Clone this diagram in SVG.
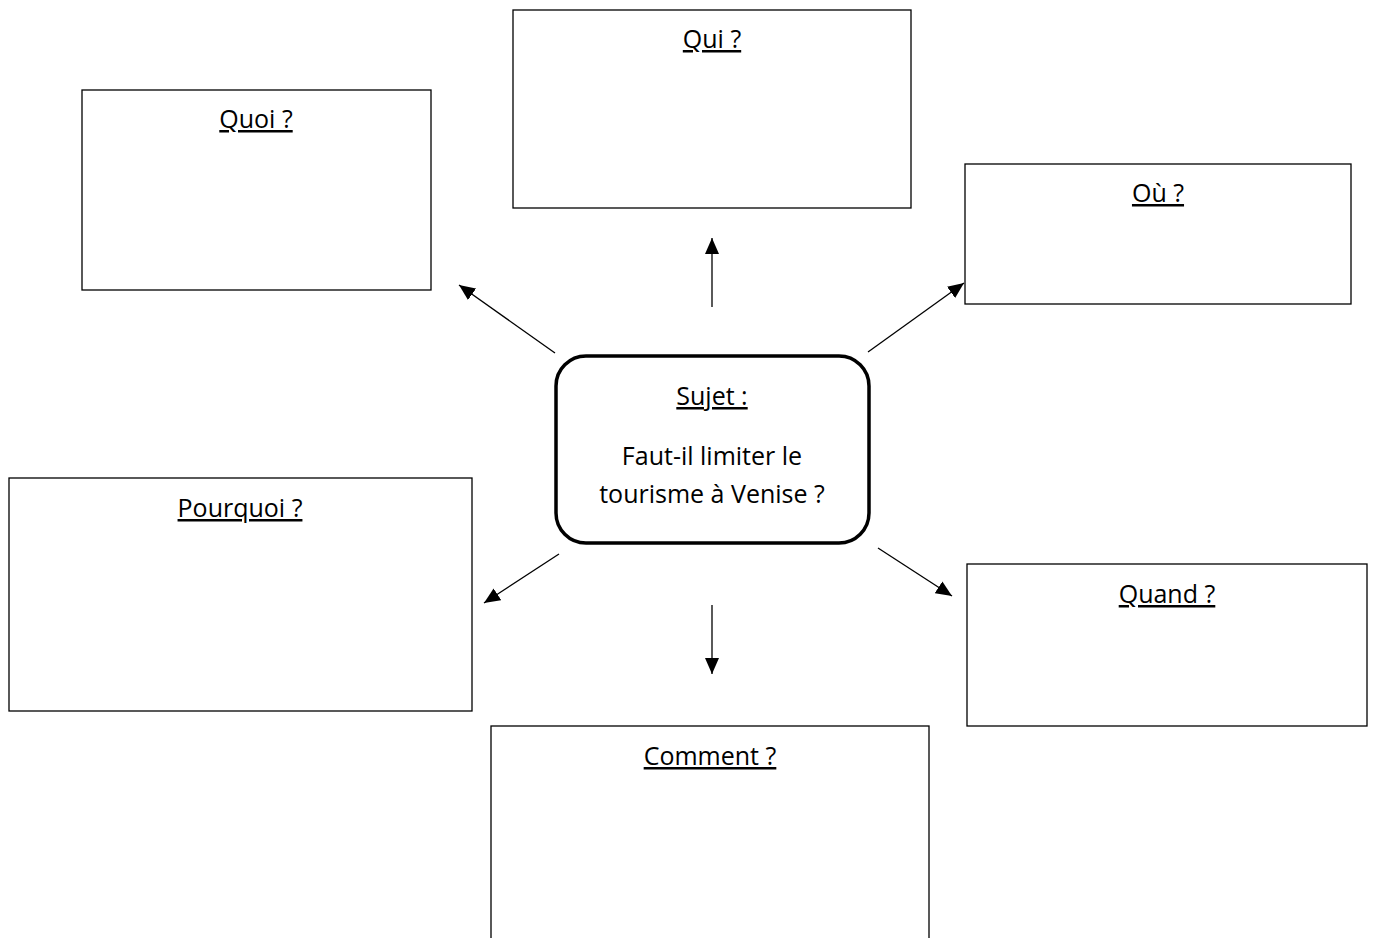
<svg xmlns="http://www.w3.org/2000/svg" width="1373" height="938" viewBox="0 0 1373 938">
<style>
.box{fill:#fff;stroke:#000;stroke-width:1.3}
.center{fill:#fff;stroke:#000;stroke-width:3.5}
.t{font-family:"Open Sans","Noto Sans",sans-serif;font-size:25px;fill:#000;text-anchor:middle}
.u{text-decoration:underline}
.c{stroke:#000;stroke-width:1.3;fill:none;marker-end:url(#ah)}
</style>
<defs>
<marker id="ah" viewBox="0 0 16 14" refX="16" refY="7" markerWidth="16" markerHeight="14" markerUnits="userSpaceOnUse" orient="auto">
<path d="M0,0 L16,7 L0,14 z" fill="#000"/>
</marker>
</defs>
<rect width="1373" height="938" fill="#fff"/>
<g id="qui"><rect class="box" x="513" y="10" width="398" height="198"/><text class="t u" x="712" y="48">Qui ?</text></g>
<g id="quoi"><rect class="box" x="82" y="90" width="349" height="200"/><text class="t u" x="256" y="128">Quoi ?</text></g>
<g id="ou"><rect class="box" x="965" y="164" width="386" height="140"/><text class="t u" x="1158" y="202">Où ?</text></g>
<g id="pourquoi"><rect class="box" x="9" y="478" width="463" height="233"/><text class="t u" x="240" y="517">Pourquoi ?</text></g>
<g id="quand"><rect class="box" x="967" y="564" width="400" height="162"/><text class="t u" x="1167" y="603">Quand ?</text></g>
<g id="comment"><rect class="box" x="491" y="726" width="438" height="230"/><text class="t u" x="710" y="765">Comment ?</text></g>
<g id="sujet"><rect class="center" x="556" y="356" width="313" height="187" rx="30"/>
<text class="t u" x="712" y="405">Sujet :</text>
<text class="t" x="712" y="465">Faut-il limiter le</text>
<text class="t" x="712" y="503">tourisme à Venise ?</text></g>
<g id="connectors">
<line class="c" x1="712" y1="307" x2="712" y2="238"/>
<line class="c" x1="555" y1="353" x2="459" y2="285"/>
<line class="c" x1="868" y1="352" x2="964" y2="283"/>
<line class="c" x1="559" y1="554" x2="484" y2="603"/>
<line class="c" x1="712" y1="605" x2="712" y2="674"/>
<line class="c" x1="878" y1="548" x2="952" y2="596"/>
</g>
</svg>
